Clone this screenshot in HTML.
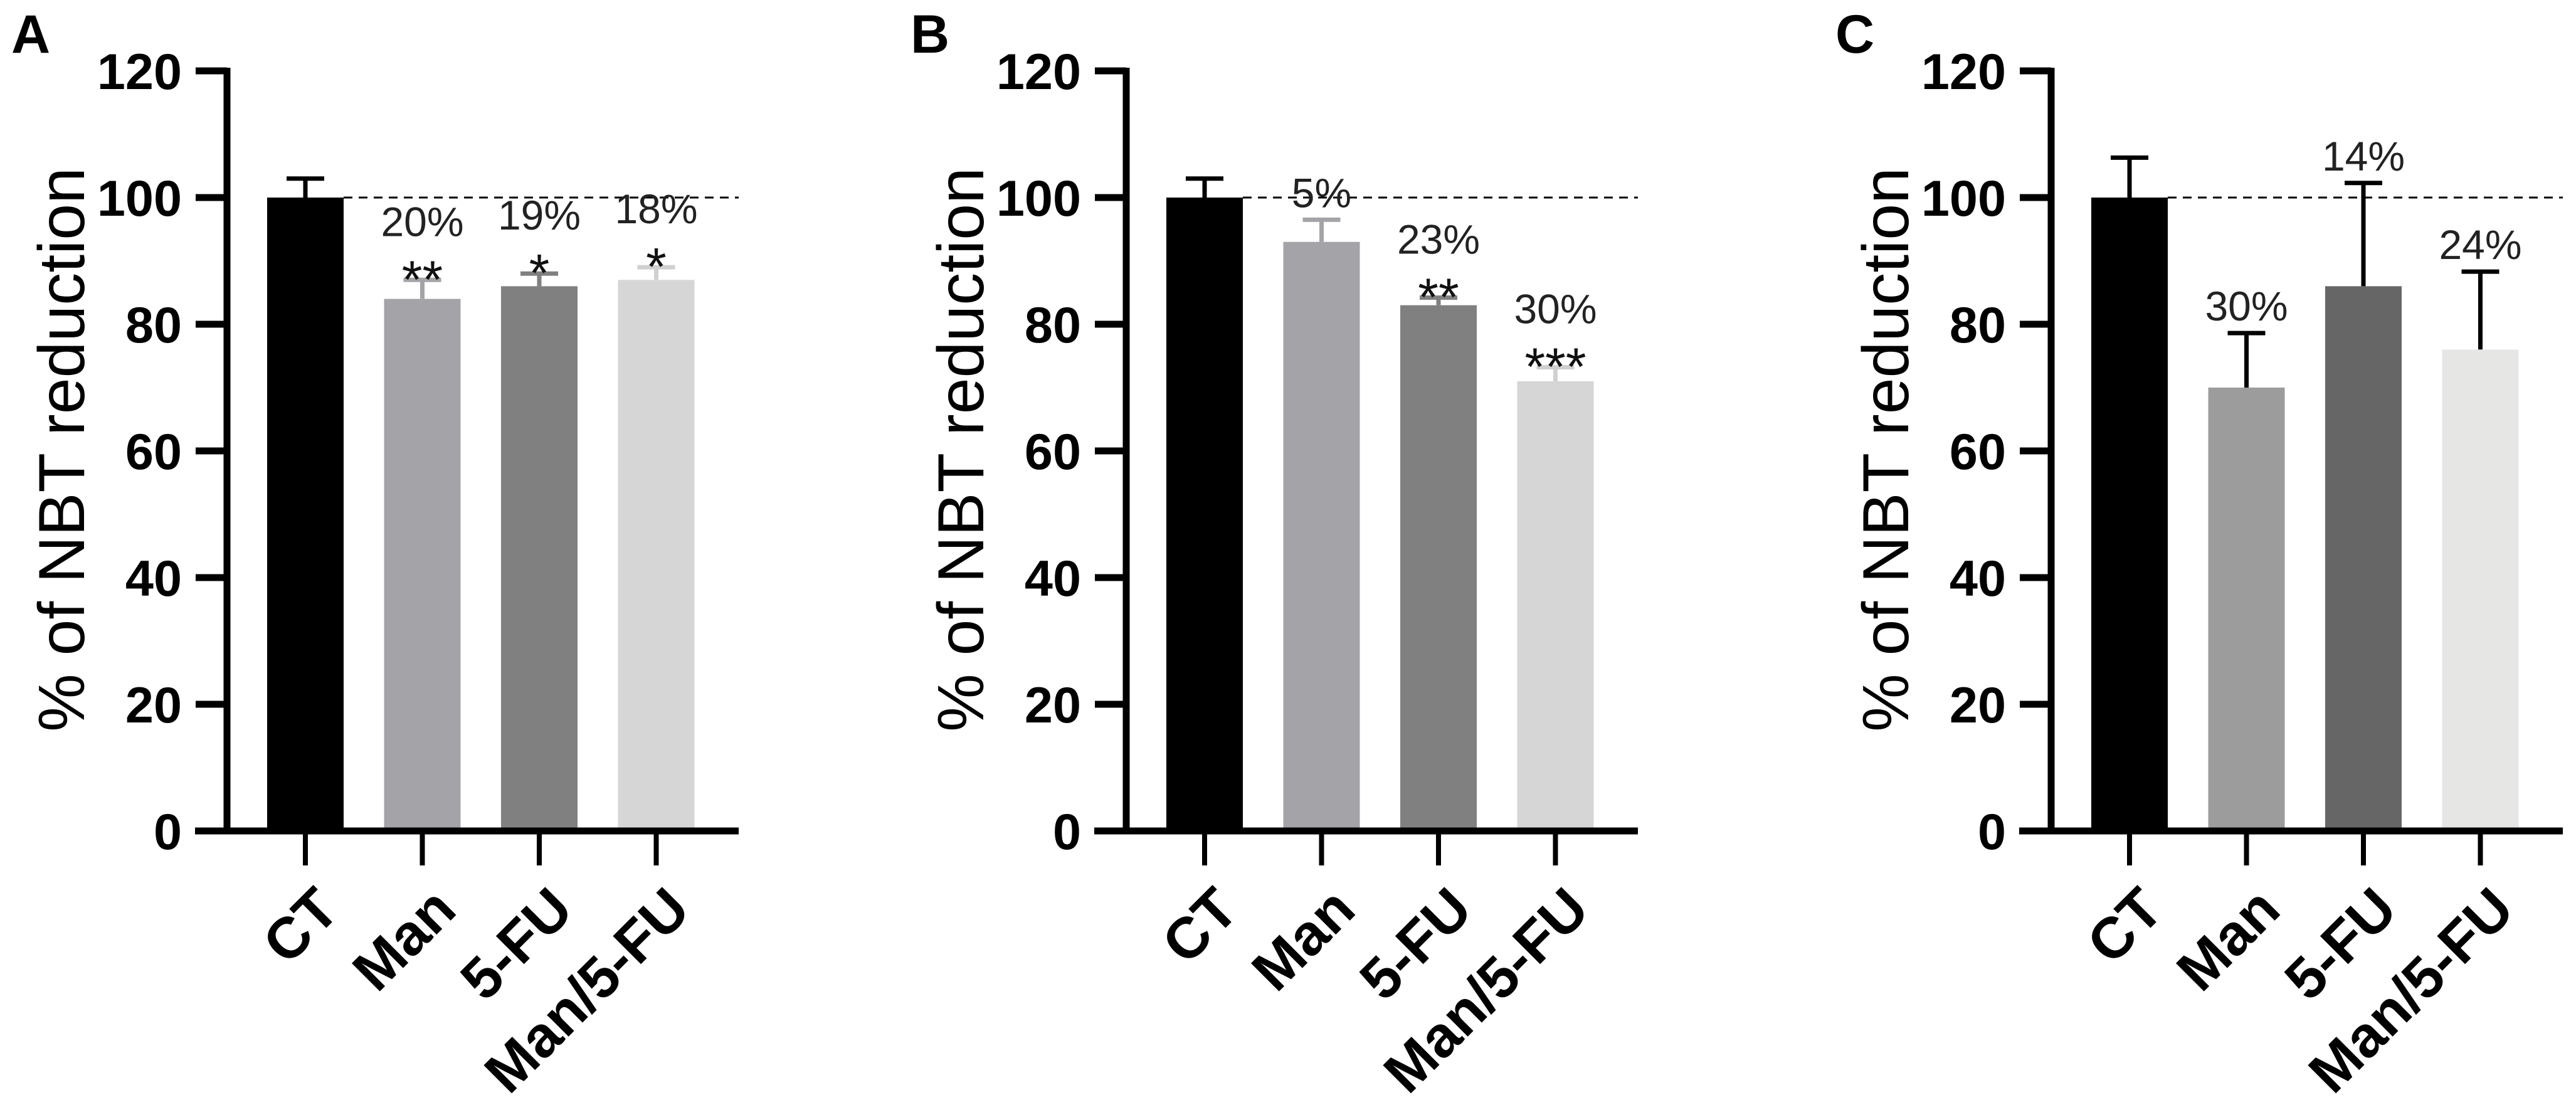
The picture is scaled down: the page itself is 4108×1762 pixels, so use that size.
<!DOCTYPE html>
<html><head><meta charset="utf-8"><style>
html,body{margin:0;padding:0;background:#fff;}
svg{display:block;font-family:"Liberation Sans",Arial,sans-serif;}
</style></head><body>
<svg id="chart" width="4108" height="1762" viewBox="0 0 4108 1762" xmlns="http://www.w3.org/2000/svg"></svg>
<script>
const categories = ["CT","Man","5-FU","Man/5-FU"];
const yTicks = [0,20,40,60,80,100,120];
const panelLetters = ["A","B","C"];
const valuesA = [100,84,86,87];
const errorsA = [3,3,2,2];
const valuesB = [100,93,83,71];
const errorsB = [3,3.5,1.2,2.2];
const valuesC = [100,70,86,76];
const errorsC = [6.3,8.6,16.3,12.3];
const pctLabelsA = ["","20%","19%","18%"];
const pctLabelsB = ["","5%","23%","30%"];
const pctLabelsC = ["","30%","14%","24%"];
const starsA = ["","**","*","*"];
const starsB = ["","","**","***"];
const starsC = ["","","",""];

const NS="http://www.w3.org/2000/svg";
const svg=document.getElementById('chart');
function mk(tag,attrs,parent){const e=document.createElementNS(NS,tag);for(const k in attrs)e.setAttribute(k,attrs[k]);(parent||svg).appendChild(e);return e;}

const panels=[
 {off:0, vals:valuesA, errs:errorsA, pct:pctLabelsA, stars:starsA, colors:["#000","#a3a3a8","#808080","#d6d6d6"], ecol:["#000","#a3a3a8","#808080","#d0d0d0"]},
 {off:1434, vals:valuesB, errs:errorsB, pct:pctLabelsB, stars:starsB, colors:["#000","#a3a3a8","#808080","#d6d6d6"], ecol:["#000","#a3a3a8","#808080","#d0d0d0"]},
 {off:2909, vals:valuesC, errs:errorsC, pct:pctLabelsC, stars:starsC, colors:["#000","#9c9c9c","#666666","#e6e6e4"], ecol:["#000","#000","#000","#000"]}
];
const y0=1325, pxPerUnit=10.1;
function yScale(v){return y0 - v*pxPerUnit;}

panels.forEach((p,pi)=>{
  const ax=362+p.off;
  function xCenter(i){return 487+p.off+i*186.5;}
  const g=mk('g',{});
  
  
  const letter=mk('text',{x:ax-344,y:84,'font-size':86,'font-weight':'bold',fill:'#000'},g);
  letter.textContent=panelLetters[pi];
  
  
  p.vals.forEach((v,i)=>{
    const xc=xCenter(i);
    const top=yScale(v+p.errs[i]), vt=yScale(v);
    const el=mk('line',{x1:xc,x2:xc,y1:top,y2:vt,stroke:p.ecol[i],'stroke-width':7},g);
    
    
    const cap=mk('line',{x1:xc-30,x2:xc+30,y1:top,y2:top,stroke:p.ecol[i],'stroke-width':7},g);
    
    
    const r=mk('rect',{x:xc-61,y:vt,width:122,height:y0-vt,fill:p.colors[i]},g);
    
    
  });
  const dl=mk('line',{x1:xCenter(0)+61,x2:1178+p.off,y1:yScale(100),y2:yScale(100),stroke:'#000','stroke-width':3,'stroke-dasharray':'14,10'},g);
  
  
  p.vals.forEach((v,i)=>{
    const xc=xCenter(i);
    const top=yScale(v+p.errs[i]);
    const hasStar=p.stars[i]!=="";
    if(hasStar){
      const s=mk('text',{x:xc,y:top+28,'font-size':84,'text-anchor':'middle',fill:'#111'},g);
      s.textContent=p.stars[i];
      
      
    }
    if(p.pct[i]){
      const t=mk('text',{x:xc,y:top-(hasStar?70:20),'font-size':66,'text-anchor':'middle',fill:'#222'},g);
      t.textContent=p.pct[i];
      
      
    }
  });
  const ya=mk('line',{x1:ax,x2:ax,y1:yScale(120)-5,y2:y0+5,stroke:'#000','stroke-width':11},g);
  
  
  const xa=mk('line',{x1:311+p.off,x2:1178+p.off,y1:y0,y2:y0,stroke:'#000','stroke-width':11},g);
  
  
  yTicks.forEach(t=>{
    const yy=yScale(t);
    const tl=mk('line',{x1:ax-50,x2:ax,y1:yy,y2:yy,stroke:'#000','stroke-width':11},g);
    
    
    const tx=mk('text',{x:ax-72,y:yy+29,'font-size':81,'font-weight':'bold','text-anchor':'end',fill:'#000'},g);
    tx.textContent=t;
    
    
  });
  categories.forEach((c,i)=>{
    const xc=xCenter(i);
    const tl=mk('line',{x1:xc,x2:xc,y1:y0,y2:1380,stroke:'#000','stroke-width':8},g);
    
    
    const tx=mk('text',{x:0,y:0,'font-size':92,'font-weight':'bold','text-anchor':'end',fill:'#000',transform:`translate(${xc+58},${1455}) rotate(-45)`},g);
    tx.textContent=c;
    
    
  });
  const yt=mk('text',{x:0,y:0,'font-size':104,'text-anchor':'middle',fill:'#000',transform:`translate(${ax-228},${717}) rotate(-90)`},g);
  yt.textContent='% of NBT reduction';
  
  
});
</script>
</body></html>
